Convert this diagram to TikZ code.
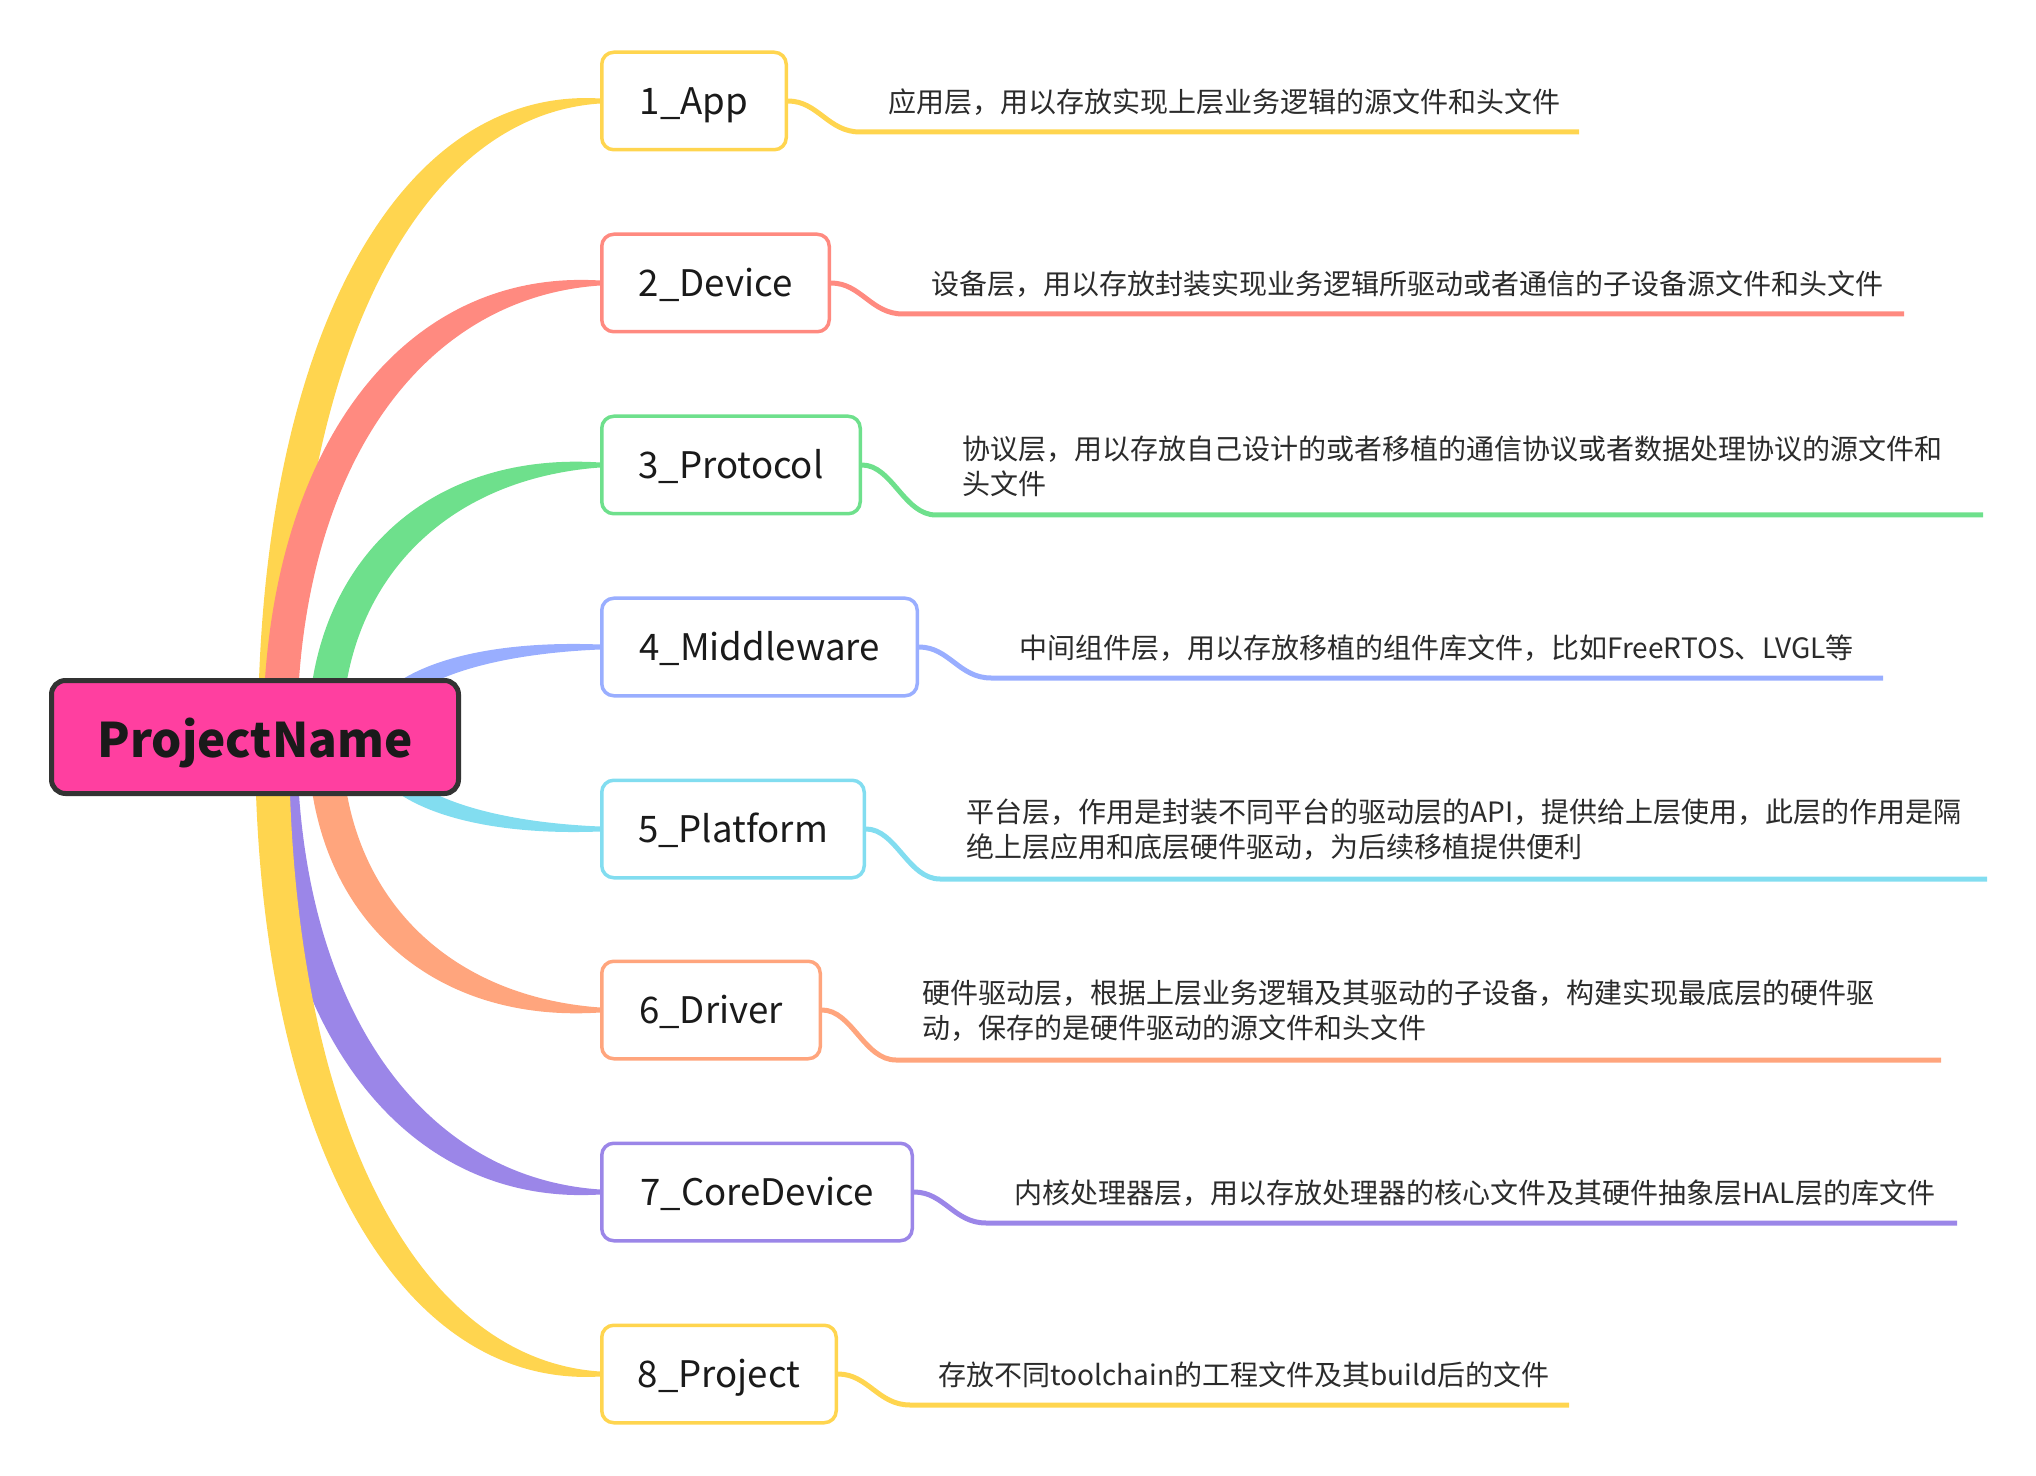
\documentclass[tikz,border=0pt]{standalone}
\usepackage{fontspec}
\setmainfont{Noto Sans CJK SC}
\usetikzlibrary{calc,backgrounds}
\definecolor{cyel}{HTML}{FFD54F}
\definecolor{cred}{HTML}{FF8A80}
\definecolor{cgrn}{HTML}{6EE08C}
\definecolor{cblu}{HTML}{99AEFF}
\definecolor{ccyn}{HTML}{82DDF0}
\definecolor{corg}{HTML}{FFA57D}
\definecolor{cpur}{HTML}{9B86E8}
\definecolor{cpink}{HTML}{FF3FA0}
\definecolor{cdark}{HTML}{333333}
\definecolor{ctxt}{HTML}{1A1A1A}
\definecolor{cdesc}{HTML}{2B2B2B}
% tapered branch: #1 colour, #2 target node, #3 start x offset (pt), #4 start half width, #5 middle half width, #6 bulge
\newcommand\mmbranch[6]{%
  \fill[#1] let \p0=(root.center), \p3=(#2.west),
    \n1={\x0+(#3)}, \n2={\x3-(\n1)}, \n3={\y3-(\y0)}, \n4={(\n3)/abs(\n3)}
  in ({(\n1-(#4))*1pt},\y0)
  .. controls ({(\n1-(#4))*1pt},{(\y0+(#6)*(\n3)+(\n4)*(#6)*(#4))*1pt})
  and ({(\x3-(#6)*(\n2)-(#6)*(#5))*1pt},{(\y3+(\n4)*(#5))*1pt})
  .. ({\x3},{(\y3+(\n4)*1.25)*1pt})
  -- ({\x3},{(\y3-(\n4)*1.25)*1pt})
  .. controls ({(\x3-(#6)*(\n2)+(#6)*(#5))*1pt},{(\y3-(\n4)*(#5))*1pt})
  and ({(\n1+(#4))*1pt},{(\y0+(#6)*(\n3)-(\n4)*(#6)*(#4))*1pt})
  .. ({(\n1+(#4))*1pt},\y0) -- cycle;}
\begin{document}
\begin{tikzpicture}[x=0.5pt,y=-0.5pt,
  rootbox/.style={draw=cdark, fill=cpink, line width=2.5pt, rounded corners=7pt,
    minimum width=203.5pt, minimum height=56.5pt, inner sep=0pt, text=ctxt,
    text height=22pt, text depth=2pt,
    font=\fontsize{23.8}{28}\selectfont\bfseries},
  leafbox/.style={draw=#1, fill=white, line width=1.75pt, rounded corners=6pt,
    minimum height=48.75pt, inner sep=0pt, anchor=west, text=ctxt,
    text height=15.3pt, text depth=2.2pt, font=\fontsize{18.3}{22}\selectfont},
  desc/.style={anchor=west, inner sep=0pt, align=left, text=cdesc,
    font=\fontsize{14}{17.5}\selectfont},
  descline/.style={draw=#1, line width=2.5pt}]
\useasboundingbox (0,0) rectangle (2036,1476);

\node[rootbox] (root) at (255,737) {ProjectName};

\node[leafbox=cyel, minimum width=92.25pt]  (c1) at (600,101)  {1\_App};
\node[leafbox=cred, minimum width=113.75pt] (c2) at (600,283)  {2\_Device};
\node[leafbox=cgrn, minimum width=129.25pt] (c3) at (600,465)  {3\_Protocol};
\node[leafbox=cblu, minimum width=157.75pt] (c4) at (600,647)  {4\_Middleware};
\node[leafbox=ccyn, minimum width=131.25pt] (c5) at (600,829)  {5\_Platform};
\node[leafbox=corg, minimum width=109.25pt] (c6) at (600,1010) {6\_Driver};
\node[leafbox=cpur, minimum width=155.25pt] (c7) at (600,1192) {7\_CoreDevice};
\node[leafbox=cyel, minimum width=117.25pt] (c8) at (600,1374) {8\_Project};

\begin{pgfonlayer}{background}
\mmbranch{cyel}{c1}{10}{8.5}{7.5}{0.6}
\mmbranch{cred}{c2}{12.5}{8.5}{7.5}{0.6}
\mmbranch{cgrn}{c3}{35}{8.5}{7}{0.6}
\mmbranch{cblu}{c4}{60}{5.5}{4}{0.6}
\mmbranch{ccyn}{c5}{60}{5.5}{4}{0.6}
\mmbranch{corg}{c6}{35}{8.5}{7}{0.6}
\mmbranch{cpur}{c7}{12.5}{8.5}{7.5}{0.6}
\mmbranch{cyel}{c8}{8.5}{8.5}{7.5}{0.6}
\end{pgfonlayer}

\node[desc] (d1) at ($(c1.east)+(100,1)$) {应用层，用以存放实现上层业务逻辑的源文件和头文件};
\node[desc] (d2) at ($(c2.east)+(100,1)$) {设备层，用以存放封装实现业务逻辑所驱动或者通信的子设备源文件和头文件};
\node[desc] (d3) at ($(c3.east)+(100,1)$) {协议层，用以存放自己设计的或者移植的通信协议或者数据处理协议的源文件和\\头文件};
\node[desc] (d4) at ($(c4.east)+(100,1)$) {中间组件层，用以存放移植的组件库文件，比如FreeRTOS、LVGL等};
\node[desc] (d5) at ($(c5.east)+(100,1)$) {平台层，作用是封装不同平台的驱动层的API，提供给上层使用，此层的作用是隔\\绝上层应用和底层硬件驱动，为后续移植提供便利};
\node[desc] (d6) at ($(c6.east)+(100,1)$) {硬件驱动层，根据上层业务逻辑及其驱动的子设备，构建实现最底层的硬件驱\\动，保存的是硬件驱动的源文件和头文件};
\node[desc] (d7) at ($(c7.east)+(100,1)$) {内核处理器层，用以存放处理器的核心文件及其硬件抽象层HAL层的库文件};
\node[desc] (d8) at ($(c8.east)+(100,1)$) {存放不同toolchain的工程文件及其build后的文件};

\coordinate (e1) at (1579,132);
\coordinate (e2) at (1904,314);
\coordinate (e3) at (1983,515);
\coordinate (e4) at (1883,678);
\coordinate (e5) at (1987,879);
\coordinate (e6) at (1941,1060);
\coordinate (e7) at (1957,1223);
\coordinate (e8) at (1569,1405);

\draw[descline=cyel] (c1.east) .. controls +(30,0) and +(-32,0) .. ($(c1.east)+(72,31)$) -- (e1);
\draw[descline=cred] (c2.east) .. controls +(30,0) and +(-32,0) .. ($(c2.east)+(72,31)$) -- (e2);
\draw[descline=cgrn] (c3.east) .. controls +(30,0) and +(-32,0) .. ($(c3.east)+(74,50)$) -- (e3);
\draw[descline=cblu] (c4.east) .. controls +(30,0) and +(-32,0) .. ($(c4.east)+(72,31)$) -- (e4);
\draw[descline=ccyn] (c5.east) .. controls +(30,0) and +(-32,0) .. ($(c5.east)+(74,50)$) -- (e5);
\draw[descline=corg] (c6.east) .. controls +(30,0) and +(-32,0) .. ($(c6.east)+(74,50)$) -- (e6);
\draw[descline=cpur] (c7.east) .. controls +(30,0) and +(-32,0) .. ($(c7.east)+(72,31)$) -- (e7);
\draw[descline=cyel] (c8.east) .. controls +(30,0) and +(-32,0) .. ($(c8.east)+(72,31)$) -- (e8);
\end{tikzpicture}
\end{document}
